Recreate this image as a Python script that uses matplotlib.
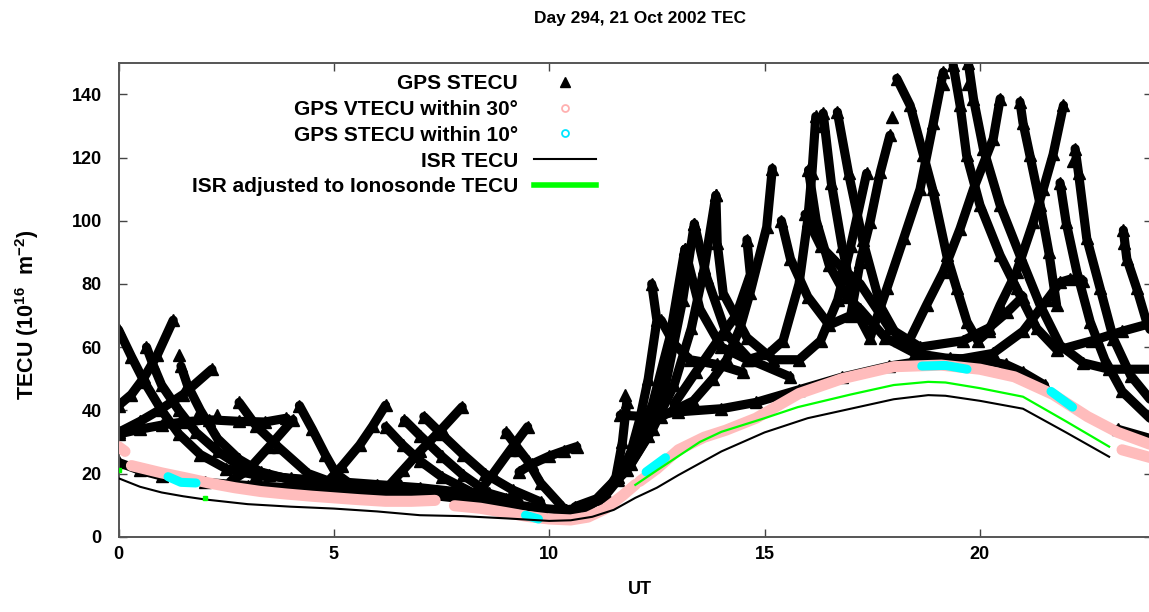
import matplotlib
matplotlib.use("Agg")
import matplotlib.pyplot as plt
from matplotlib.lines import Line2D

plt.rcParams['font.family'] = ['Liberation Sans', 'DejaVu Sans']
plt.rcParams['font.weight'] = 'bold'
plt.rcParams['mathtext.fontset'] = 'custom'
plt.rcParams['mathtext.rm'] = 'Liberation Sans:bold'
plt.rcParams['mathtext.bf'] = 'Liberation Sans:bold'
plt.rcParams['mathtext.default'] = 'bf'

# ---------------- data (UT hours, TECU) ----------------
# GPS STECU satellite arcs, night / early morning
stec_arcs_night = [
    ([0, 0.3, 0.6, 1.0, 1.4, 1.9, 2.5, 3.2, 4.0, 5.0, 6.0, 7.0, 8.0, 9.0],
     [65.5, 57, 49, 40, 32.5, 26, 21.5, 19.5, 18.5, 17.5, 16.5, 15.5, 14, 12]),
    ([0, 0.3, 0.6, 0.9, 1.27], [41.5, 45, 50.5, 57.5, 68.5]),
    ([0.65, 0.8, 1.0, 1.4, 1.8, 2.3, 2.8, 3.5, 4.5, 5.5, 6.5],
     [60, 54.5, 48, 40, 33, 27, 22.5, 19.5, 17, 16, 15]),
    ([1.45, 1.6, 1.9, 2.3, 2.8, 3.3, 4.0, 5.0], [54, 48, 40, 31, 24.5, 20.5, 18, 16.5]),
    ([0, 0.5, 1.0, 1.5, 2.17], [33, 36.5, 40.5, 45, 53]),
    ([0, 0.5, 1.0, 1.5, 2.1, 2.8, 3.4, 3.9], [32.5, 34, 35.3, 36.3, 37, 36.5, 36.3, 37.5]),
    ([2.8, 3.2, 3.7, 4.4, 5.0, 5.8], [42.5, 35, 28.5, 20, 17, 15.5]),
    ([2.6, 3.0, 3.5, 4.05], [17.5, 21, 28.5, 37]),
    ([4.2, 4.5, 4.8, 5.05, 5.4, 6.0], [41.5, 34, 26, 20, 16.5, 15]),
    ([4.9, 5.2, 5.6, 5.9, 6.2], [18, 22.5, 29, 35, 41.6]),
    ([6.2, 6.6, 7.0, 7.5, 8.25, 9.0], [34.8, 29, 24, 19, 13.7, 11.5]),
    ([6.64, 7.0, 7.5, 8.0, 8.61, 9.3], [36.9, 32, 25.5, 19.5, 13.7, 11]),
    ([7.09, 7.5, 8.0, 8.5, 9.15, 9.8], [38, 32.5, 26, 20, 14.8, 11]),
    ([6.19, 6.6, 7.0, 7.5, 7.98], [14.8, 21, 27, 34, 41.1]),
    ([8.35, 8.7, 9.1, 9.5], [13.8, 20, 27.5, 34.8]),
    ([9.0, 9.3, 9.5, 9.8, 10.3], [33, 27.5, 24, 17, 9.5]),
    ([9.3, 9.6, 10.0, 10.35, 10.64], [20.5, 23, 25.5, 27.2, 28.5]),
    ([6.1, 6.5], [13.7, 17]),
]

# arcs through the morning rise
stec_arcs_morning = [
    ([0, 0.5, 1.0, 2.0, 3.0, 4.0, 5.0, 6.0, 7.0, 8.0, 9.0, 9.8, 10.4, 10.9, 11.3,
      11.6, 11.9, 12.1, 12.3, 12.5, 12.38],
     [23.5, 21, 19.2, 17.2, 16.2, 15.5, 15, 14.3, 13.5, 12, 10.5, 9, 8.3, 9.5, 13,
      18, 27, 37, 50, 68.5, 80]),
    ([10.4, 10.9, 11.3, 11.55, 11.7, 11.8], [8.5, 9.5, 13, 19, 30, 42.5]),
    ([10.6, 11.1, 11.6, 12.0, 12.4, 12.8, 13.15], [9.5, 12, 19, 28, 42, 63, 91]),
    ([11.3, 11.8, 12.3, 12.7, 13.1, 13.37], [14, 21, 32, 48, 75, 99]),
    ([11.9, 12.4, 12.9, 13.3, 13.6, 13.87], [23, 34, 48, 66, 85, 108]),
    ([11.65, 12.2, 13.0, 14.0, 14.8, 15.8, 16.8, 17.9, 18.6, 19.3, 20.0, 20.6, 21.0, 21.5],
     [38.5, 38, 39.5, 40.5, 42.5, 46.5, 50.5, 54, 55.5, 56.5, 56, 54.5, 52, 48]),
    ([12.6, 12.9, 13.27, 13.9, 14.5], [68.5, 61, 56, 54.5, 52]),
    ([12.9, 13.4, 13.91, 14.34, 14.67, 14.59], [42, 52, 62, 70, 83, 94]),
    ([12.6, 13.35, 13.8, 14.12, 14.43, 14.66, 15.05, 15.18],
     [38, 43, 50, 56, 66, 77, 98, 116.5]),
    ([13.37, 13.66, 14.12, 14.66, 15.59], [99, 82, 64, 56, 50.6]),
]

# afternoon / evening arcs
stec_arcs_afternoon = [
    ([13.87, 13.9, 14.04, 14.59, 15.2, 15.8, 16.3, 16.7, 17.0, 17.37],
     [108, 93, 77, 63, 56, 56, 62, 75, 92, 115]),
    ([13.15, 13.5, 14.0, 14.6, 15.1, 15.43, 15.8, 16.0, 16.1, 16.19],
     [91, 72, 60, 56, 58, 62, 80, 100, 115, 133]),
    ([15.39, 15.6, 16.0, 16.5, 17.0, 17.22, 17.45, 17.69, 17.91],
     [100, 88, 76, 67, 70, 87, 99.6, 115.5, 127]),
    ([16.36, 16.55, 16.8, 17.1, 17.45, 17.84, 18.23, 18.61, 18.92, 19.15],
     [134, 112, 92, 72, 63, 78.6, 94.4, 110, 131, 147]),
    ([16.69, 16.95, 17.28, 17.7, 18.13, 18.38, 18.76, 19.15, 19.54, 19.85, 20.31, 20.47],
     [134.4, 115, 93.8, 72.7, 62.2, 62.7, 73.3, 83.8, 97.5, 110, 126, 138.6]),
    ([18.07, 18.38, 18.69, 18.9, 19.23, 19.46, 19.7, 19.95, 20.2, 20.47, 20.85, 21.24,
      21.47, 21.7, 21.94],
     [145, 136.5, 120.7, 110, 89, 78.6, 68, 62, 65, 73.3, 83.8, 99.6, 110, 121, 136.5]),
    ([19.38, 19.54, 19.69, 20.0, 20.47, 20.85, 21.32, 21.8, 22.6, 23.3, 24.1],
     [149.2, 136.5, 120.7, 105, 89, 78.6, 65.9, 59, 62, 65, 68]),
    ([19.73, 19.85, 20.08, 20.47, 20.93, 21.4, 21.86, 22.4, 23.0, 24.1],
     [150, 138.6, 122.8, 104.9, 89, 73.2, 60.6, 55, 53, 53]),
    ([20.93, 21.0, 21.16, 21.4, 21.6, 21.78], [137.6, 131, 120.7, 105, 90, 73.3]),
    ([21.86, 22.0, 22.25, 22.56, 22.9, 23.3, 24.1], [112, 99.6, 83.8, 68, 56, 46, 35.5]),
    ([22.21, 22.29, 22.48, 22.79, 23.1, 23.5, 24.1], [122.8, 115, 94.4, 78.6, 62.7, 51, 41]),
    ([23.33, 23.41, 23.64, 23.87, 24.1], [97, 88, 78.6, 68, 61]),
    ([16.02, 16.2, 16.5, 16.9, 17.22, 17.8, 18.5, 19.46, 20.3, 21.0, 21.56, 21.86, 22.1, 22.4],
     [116, 100, 86, 76, 72, 63, 58, 56, 58, 65, 75, 80.5, 81.5, 81]),
    ([15.94, 16.3, 16.8, 17.22, 17.9, 18.61, 19.6, 20.2, 20.63, 21.0],
     [102, 92, 85, 80, 66, 60, 62, 66, 71, 76]),
    ([23.2, 24.1], [34, 30.5]),
]

# isolated GPS STECU points
stec_iso_t = [1.4, 2.28, 17.96, 19.14, 19.72, 22.17, 23.35, 11.75, 16.36]
stec_iso_v = [57.5, 38.5, 132.8, 143.4, 143.4, 119, 93, 45, 130]

# GPS VTECU within 30 deg (pink band segments)
vtec_segments = [
    ([0.0, 0.15], [28.5, 27]),
    ([0.3, 1.0, 1.6, 2.1, 2.7, 3.3, 3.9, 4.5, 5.0, 5.6, 6.2, 6.8, 7.35],
     [22.5, 20.2, 18.5, 17, 15.5, 14.3, 13.5, 12.8, 12.3, 11.7, 11.2, 11.2, 11.5]),
    ([7.8, 8.4, 9.0, 9.5, 10.0, 10.5, 10.9, 11.3, 11.7, 12.0],
     [9.8, 9, 7.6, 6.4, 5.6, 5.3, 6.2, 8.8, 13, 16.5]),
    ([12.1, 12.5, 13.0, 13.6, 14.1, 14.8, 15.8, 16.8, 18.0, 19.1, 20.0, 20.8, 21.7,
      22.5, 23.2, 24.1],
     [17.5, 21.5, 27.5, 31.5, 33.7, 37.5, 45.3, 50, 53.8, 54.3, 53, 50.6, 45, 38, 33, 28.5]),
    ([23.3, 24.1], [27.5, 24.5]),
]

# GPS STECU within 10 deg (cyan)
stec10_segments = [
    ([1.15, 1.45, 1.8], [19, 17.2, 17]),
    ([9.45, 9.75], [6.8, 5.6]),
    ([12.25, 12.7], [20.5, 25]),
    ([18.65, 19.2, 19.7], [54, 54.2, 53]),
    ([21.65, 22.15], [46, 41]),
]

# ISR TECU
isr_t = [0, 0.5, 1, 1.5, 2, 3, 4, 5, 6, 7, 8, 9, 9.5, 10, 10.5, 11, 11.5, 12, 12.5, 13,
         14, 15, 16, 17, 18, 18.8, 19.2, 20, 21, 22, 23]
isr_v = [18.5, 15.8, 14, 12.8, 11.8, 10.3, 9.5, 8.9, 8, 6.8, 6.5, 5.8, 5.4, 5, 5.2, 6.3,
         8.5, 12.3, 15.5, 19.5, 27, 33, 37.5, 40.5, 43.5, 44.8, 44.6, 43, 40.5, 33, 25.3]

# ISR adjusted to ionosonde TECU
adj_t = [12.0, 12.5, 13.0, 13.5, 14.0, 15.0, 15.77, 17.0, 18.0, 18.8, 19.2, 20.0, 21.0, 22.0, 23.0]
adj_v = [16.4, 21, 25.5, 30, 33.2, 37.5, 41, 45, 48, 49, 48.8, 47, 44.3, 36.5, 28.5]
adj_pts_t = [0.0, 2.0]
adj_pts_v = [21.0, 12.2]

# axis ticks
xticks = [0, 5, 10, 15, 20]
yticks = [0, 20, 40, 60, 80, 100, 120, 140]

# ---------------- plotting ----------------
W, H = 1149, 612
fig = plt.figure(figsize=(W / 100, H / 100), dpi=100)
ax = fig.add_axes([118.5 / W, (H - 536.7) / H, 1033.7 / W, 474.0 / H])
ax.set_xlim(0, 24)
ax.set_ylim(0, 150)

BLACK_LW = 6.6
for group in (stec_arcs_night, stec_arcs_morning, stec_arcs_afternoon):
    for t, v in group:
        ax.plot(t, v, '-', color='black', lw=BLACK_LW, solid_capstyle='round',
                solid_joinstyle='round', zorder=2)
        ax.plot(t, v, '^', color='black', ms=9, zorder=2)
ax.plot(stec_iso_t, stec_iso_v, '^', color='black', ms=9, ls='none', zorder=2)

PINK = '#ffbcbc'
for t, v in vtec_segments:
    ax.plot(t, v, '-', color=PINK, lw=8, solid_capstyle='round', zorder=3)

for t, v in stec10_segments:
    ax.plot(t, v, '-', color='#00ffff', lw=6.5, solid_capstyle='round', zorder=4)

ax.plot(isr_t, isr_v, '-', color='black', lw=1.5, zorder=5)
ax.plot(adj_t, adj_v, '-', color='#00ff00', lw=1.6, zorder=6)
ax.plot(adj_pts_t, adj_pts_v, 's', color='#00ff00', ms=3.5, ls='none', zorder=6)

ax.set_xticks(xticks)
ax.set_yticks(yticks)
ax.tick_params(direction='in', length=6, width=1, color='#444444', top=True, right=True,
               labelsize=13)
ax.tick_params(axis='y', pad=12)
ax.tick_params(axis='x', pad=7)
for lab in ax.get_xticklabels() + ax.get_yticklabels():
    lab.set_fontweight('bold')
for s in ax.spines.values():
    s.set_color('#555555')
    s.set_linewidth(1.4)

handles = [
    Line2D([], [], ls='none', marker='^', color='black', ms=7),
    Line2D([], [], ls='none', marker='o', mfc='none', mec='#ffb0b0', ms=5, mew=1.3),
    Line2D([], [], ls='none', marker='o', mfc='none', mec='#00e5ff', ms=5, mew=1.3),
    Line2D([], [], color='black', lw=1.5),
    Line2D([], [], color='#00ff00', lw=4),
]
labels = ['GPS STECU', 'GPS VTECU within 30\u00b0', 'GPS STECU within 10\u00b0',
          'ISR TECU', 'ISR adjusted to Ionosonde TECU']
leg = fig.legend(handles, labels, loc='upper right', bbox_to_anchor=(596 / W, 1 - 74 / H),
                 bbox_transform=fig.transFigure, frameon=False, markerfirst=False,
                 prop={'weight': 'bold', 'size': 15}, labelspacing=0.33,
                 handlelength=3.0, handletextpad=0.75, borderpad=0, borderaxespad=0)

fig.text(640 / W, 1 - 18 / H, 'Day 294, 21 Oct 2002 TEC', ha='center', va='center',
         fontsize=12.5, fontweight='bold')
fig.text(640 / W, 1 - 589 / H, 'UT', ha='center', va='center', fontsize=13,
         fontweight='bold')
fig.text(27 / W, 1 - 315 / H, r'TECU (10$^{16}$  m$^{-2}$)', ha='center', va='center',
         rotation=90, fontsize=15.5, fontweight='bold')

fig.savefig('out.png', dpi=100)
